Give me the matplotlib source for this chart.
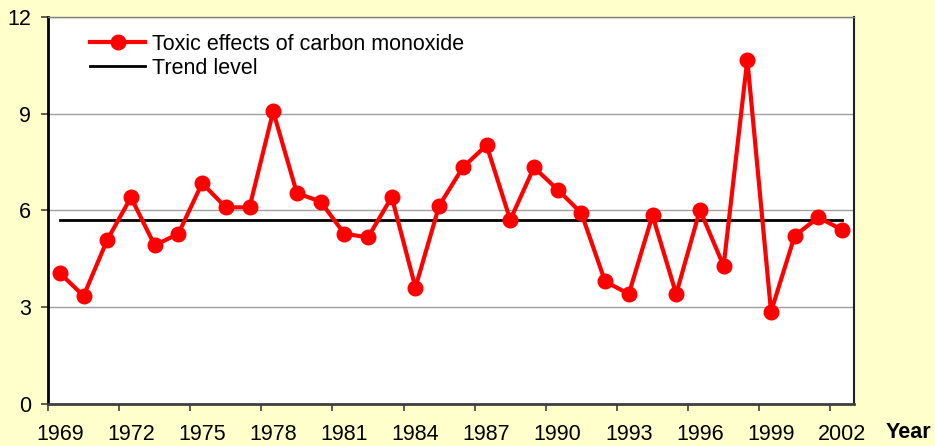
import numpy as np
import matplotlib
matplotlib.use("Agg")
import matplotlib.pyplot as plt

plt.rcParams['font.family'] = ['Liberation Sans', 'DejaVu Sans']

years = np.arange(1969, 2003)
cases = [4.05, 3.34, 5.08, 6.40, 4.91, 5.27, 6.84, 6.09, 6.09, 9.07,
         6.53, 6.27, 5.27, 5.16, 6.41, 3.60, 6.14, 7.33, 8.02, 5.70,
         7.33, 6.64, 5.91, 3.79, 3.40, 5.84, 3.40, 6.01, 4.27, 10.68,
         2.85, 5.21, 5.78, 5.39]
trend_level = 5.70
tick_years = np.arange(1969, 2003, 3)
y_ticks = [0, 3, 6, 9, 12]

bg = '#FFFFCC'
fs = 15.5
fig = plt.figure(figsize=(9.35, 4.46), dpi=100, facecolor=bg)
ax = fig.add_axes([48/935, 1-403.5/446, 806/935, 386.5/446])
ax.set_facecolor('white')

ax.plot(years, cases, color='#FF0000', lw=3, marker='o', ms=10.5,
        label='Toxic effects of carbon monoxide', zorder=3)
ax.plot([years[0], years[-1]], [trend_level, trend_level], color='black', lw=2,
        label='Trend level', zorder=2)

ax.set_xlim(years[0] - 0.5, years[-1] + 0.5)
ax.set_ylim(0, 12)
ax.set_yticks(y_ticks)
ax.yaxis.grid(True, color='#A0A0A0', lw=1)
ax.set_axisbelow(True)

ax.set_xticks(tick_years)
ax.set_xticklabels([str(y) for y in tick_years])
ax.set_xticks(tick_years - 0.5, minor=True)
ax.tick_params(axis='x', which='major', length=0, pad=15, labelsize=fs)
ax.tick_params(axis='x', which='minor', length=5, width=1.2, color='#404040')
ax.tick_params(axis='y', length=5, width=1.2, color='#404040', pad=7, labelsize=fs)

ax.spines['left'].set_color('black')
ax.spines['left'].set_linewidth(2)
ax.spines['bottom'].set_color('#404040')
ax.spines['bottom'].set_linewidth(2)
ax.spines['top'].set_color('#808080')
ax.spines['top'].set_linewidth(1)
ax.spines['right'].set_color('#202020')
ax.spines['right'].set_linewidth(1.5)

fig.text(908/935, 1-433/446, 'Year', fontsize=fs, fontweight='bold',
         ha='center', va='center')

ax.legend(loc='upper left', bbox_to_anchor=(0.039, 0.985), frameon=False,
          fontsize=fs, handlelength=2.55, handletextpad=0.3,
          borderpad=0, labelspacing=0.15)

fig.savefig('out.png', dpi=100, facecolor=bg)
